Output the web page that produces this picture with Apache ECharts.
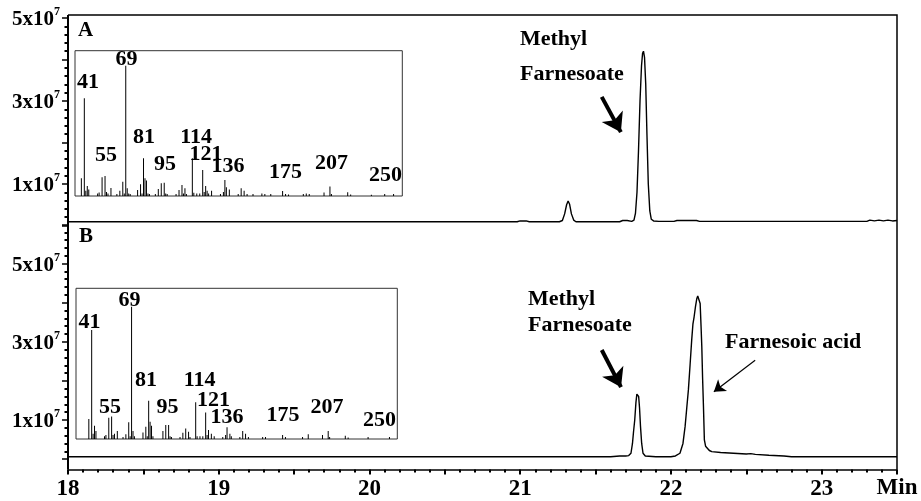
<!DOCTYPE html>
<html><head><meta charset="utf-8">
<script src="https://cdn.jsdelivr.net/npm/echarts@6/dist/echarts.min.js"></script>
<style>html,body{margin:0;padding:0;background:#fff}#c{width:921px;height:501px}</style>
</head><body><div id="c"></div>
<script>
const FONT = "'Liberation Serif','Times New Roman',serif";

// ---- Panel A chromatogram: retention time (min) / abundance (x10^7)
const timeA = [18.00,19.00,20.00,20.98,21.00,21.04,21.06,21.26,21.28,21.295,21.308,21.318,21.328,21.34,21.355,21.37,
  21.66,21.68,21.71,21.74,21.755,21.765,21.775,21.785,21.795,21.805,21.812,21.818,21.825,21.833,21.841,21.85,21.86,21.87,21.885,21.92,
  22.02,22.04,22.17,22.19,23.30,23.32,23.35,23.38,23.41,23.44,23.47,23.50];
const abundA = [0.09,0.09,0.09,0.09,0.11,0.11,0.09,0.09,0.12,0.28,0.50,0.59,0.51,0.28,0.13,0.09,
  0.09,0.12,0.12,0.10,0.13,0.30,0.80,1.80,3.00,3.85,4.15,4.20,4.05,3.40,2.20,1.00,0.35,0.15,0.11,0.10,
  0.10,0.12,0.12,0.10,0.10,0.13,0.11,0.13,0.11,0.13,0.11,0.12];

// ---- Panel B chromatogram
const timeB = [18.00,19.00,20.00,21.00,21.60,21.66,21.70,21.72,21.735,21.745,21.752,21.760,21.768,21.774,21.780,21.786,21.792,21.798,21.806,21.815,21.83,21.90,
  22.00,22.03,22.06,22.08,22.094,22.105,22.116,22.127,22.138,22.146,22.154,22.163,22.172,22.178,22.186,22.194,22.200,22.205,22.210,22.216,22.222,22.230,22.238,22.255,22.271,
  22.33,22.415,22.50,22.53,22.56,22.65,22.75,22.80,23.50];
const abundB = [0.06,0.06,0.06,0.06,0.06,0.08,0.08,0.09,0.15,0.40,0.70,1.00,1.45,1.66,1.68,1.60,1.30,0.85,0.40,0.15,0.08,0.06,
  0.06,0.08,0.15,0.40,0.83,1.30,1.77,2.40,3.05,3.45,3.64,3.90,4.11,4.17,4.12,3.98,3.40,2.87,2.10,1.34,0.49,0.33,0.28,0.22,0.19,
  0.17,0.15,0.13,0.14,0.12,0.10,0.08,0.06,0.06];

// ---- Inset mass spectra (m/z, relative intensity)
const mzA = [39,41,42,43,44,50,51,53,55,56,57,59,63,65,67,68,69,70,71,72,77,79,80,81,82,83,84,85,89,91,93,95,96,97,103,105,107,108,109,110,
  114,115,117,119,121,122,123,124,125,127,133,135,136,137,139,145,147,149,151,155,161,163,167,175,177,179,189,191,193,203,207,208,219,221,235,244,250];
const intA = [13.6,75,4,7.7,5,2,2.6,14.3,15.4,3,2,6.1,1.5,4,11,2,100,5.9,2,1.5,4.6,9,2,29,13.6,11.8,2,1.5,1.5,5.4,9.7,10.2,2,1.5,1.5,4.6,8.4,2,5.9,1.5,
  29,2.5,2,2,20,3,7.7,4,2,4,1.5,3,12.3,6.7,5,1.5,5.9,4,1.5,1.5,2,1.5,1.5,3.8,1.5,1.2,1.5,2,1.5,2.6,7.2,1.5,2.8,1.2,1,1.5,1.5];
const mzB = [39,41,42,43,44,50,51,53,55,56,57,59,63,65,67,68,69,70,71,77,79,80,81,82,83,84,91,93,95,96,97,103,105,107,109,110,
  114,115,117,119,121,122,123,125,127,133,135,136,138,139,145,147,149,151,161,163,175,177,189,193,203,207,208,219,221,235,250];
const intB = [15.1,82.4,4,10,6,2,3,16,17,3,4,6,1.5,3.5,12.6,2,100,6,2,5,9.3,2,29,13,10,2,6,10.6,10.6,2,1.5,1.5,4.8,8,5.5,1.5,
  27.7,2,2,2,20,3,6.8,4,2,1.5,3,8.8,4,2,1.5,6,4,1.5,1.5,1.5,3,1.5,1.5,3.5,3,6,1.5,2.5,1.2,1.5,1.5];

// ion labels and their anchor points (m/z, intensity units) in each inset
const ionLabels = ['41','69','55','81','95','114','121','136','175','207','250'];
const ionAnchorMzA = [43.5,69.5,55.6,81.3,95.5,116.5,123.2,138.1,176.9,208,244.5];
const ionAnchorValA = [87.5,105,31,45.3,24.6,45.3,31.8,22.6,18.4,24.9,15.7];
const ionAnchorMzB = [39.5,67.5,53.9,79.1,94.2,116.7,126.5,136,175.3,206.1,243];
const ionAnchorValB = [88.4,105,23.8,44.2,23.8,44.2,29.1,16.6,18.1,24.2,14];

const xTickLabels = [18,19,20,21,22,23];
const yTickLabels = [1,3,5];

// layout constants
const L = 68, R = 897, T = 15, AX = 469.5;

const chart = echarts.init(document.getElementById('c'), null, {renderer:'canvas'});

function yAxisCfg(grid, max){
  return {
    gridIndex: grid, type:'value', min:0, max:max, interval:1,
    axisLine:{show:false},
    axisTick:{show:true, length:6, lineStyle:{color:'#000', width:1.5}},
    minorTick:{show:true, splitNumber:5, length:3.5, lineStyle:{color:'#000', width:2}},
    splitLine:{show:false}, minorSplitLine:{show:false},
    axisLabel:{
      margin:8,
      formatter: v => yTickLabels.includes(v) ? '{b|' + v + 'x10}{s|7}' : '',
      rich:{
        b:{fontFamily:FONT, fontWeight:'bold', fontSize:21, color:'#000', lineHeight:24, verticalAlign:'bottom'},
        s:{fontFamily:FONT, fontWeight:'bold', fontSize:12, color:'#000', lineHeight:14, verticalAlign:'top'}
      }
    }
  };
}

const labelStyle = {show:true, position:'inside', formatter:'{b}', fontFamily:FONT, fontWeight:'bold', fontSize:22, color:'#000', opacity:1};

const option = {
  animation:false,
  backgroundColor:'#fff',
  grid:[
    {left:L, right:921-R, top:18, bottom:501-225.5},
    {left:L, right:921-R, top:224.5, bottom:501-459.1},
    {left:75, top:50.7, width:327.3, height:145.3, show:true, borderColor:'#333', borderWidth:1, backgroundColor:'#fff', z:3},
    {left:76, top:288.3, width:321.3, height:150.7, show:true, borderColor:'#333', borderWidth:1, backgroundColor:'#fff', z:3}
  ],
  xAxis:[
    {gridIndex:0, type:'value', min:18, max:23.5, show:false},
    {gridIndex:1, type:'value', min:18, max:23.5, interval:0.5, offset:10.4, position:'bottom',
      axisLine:{onZero:false, lineStyle:{color:'#000', width:1.5}},
      axisTick:{length:5, lineStyle:{color:'#000', width:2}},
      minorTick:{show:true, splitNumber:5, length:3, lineStyle:{color:'#000', width:2}},
      splitLine:{show:false}, minorSplitLine:{show:false},
      axisLabel:{margin:8, fontFamily:FONT, fontWeight:'bold', fontSize:23, color:'#000',
        formatter: v => xTickLabels.includes(v) ? String(v) : ''}
    },
    {gridIndex:2, type:'value', min:34.7, max:255.9, show:false},
    {gridIndex:3, type:'value', min:30, max:255.5, show:false}
  ],
  yAxis:[
    yAxisCfg(0, 5),
    yAxisCfg(1, 6),
    {gridIndex:2, type:'value', min:0, max:111.5, show:false},
    {gridIndex:3, type:'value', min:0, max:113.9, show:false}
  ],
  series:[
    {type:'line', xAxisIndex:0, yAxisIndex:0, symbol:'none', smooth:false,
      lineStyle:{color:'#000', width:1.4}, z:2,
      data: timeA.map((t,i)=>[t, abundA[i]]),
      markLine:{silent:true, animation:false, symbol:['none','arrow'],
        label:{show:false}, lineStyle:{color:'#000', width:4, type:'solid'},
        data:[[{coord:[21.541,3.10], lineStyle:{width:4, color:'#000'}, symbolSize:1},
               {coord:[21.668,2.25], lineStyle:{width:4, color:'#000'}, symbolSize:18}]]}
    },
    {type:'line', xAxisIndex:1, yAxisIndex:1, symbol:'none', smooth:false,
      lineStyle:{color:'#000', width:1.4}, z:2,
      data: timeB.map((t,i)=>[t, abundB[i]]),
      markLine:{silent:true, animation:false, symbol:['none','arrow'],
        label:{show:false}, lineStyle:{color:'#000', type:'solid'},
        data:[
          [{coord:[21.541,2.79], lineStyle:{width:4, color:'#000'}, symbolSize:1},
           {coord:[21.669,1.84], lineStyle:{width:4, color:'#000'}, symbolSize:18}],
          [{coord:[22.559,2.53], lineStyle:{width:1.2, color:'#000'}, symbolSize:1},
           {coord:[22.285,1.72], lineStyle:{width:1.2, color:'#000'}, symbolSize:11}]
        ]}
    },
    {type:'bar', xAxisIndex:2, yAxisIndex:2, barWidth:1, itemStyle:{color:'#000'}, z:4,
      data: mzA.map((m,i)=>[m, intA[i]])},
    {type:'bar', xAxisIndex:3, yAxisIndex:3, barWidth:1, itemStyle:{color:'#000'}, z:4,
      data: mzB.map((m,i)=>[m, intB[i]])},
    {type:'scatter', xAxisIndex:2, yAxisIndex:2, symbolSize:1, itemStyle:{color:'rgba(0,0,0,0)', opacity:1}, z:5,
      label:labelStyle,
      data: ionLabels.map((n,i)=>({name:n, value:[ionAnchorMzA[i], ionAnchorValA[i]]}))},
    {type:'scatter', xAxisIndex:3, yAxisIndex:3, symbolSize:1, itemStyle:{color:'rgba(0,0,0,0)', opacity:1}, z:5,
      label:labelStyle,
      data: ionLabels.map((n,i)=>({name:n, value:[ionAnchorMzB[i], ionAnchorValB[i]]}))}
  ],
  graphic:[
    {type:'polyline', shape:{points:[[L,T],[R,T],[R,AX]]}, style:{stroke:'#000', lineWidth:1.5, fill:null}, z:10},
    {type:'line', shape:{x1:L, y1:T, x2:L, y2:AX}, style:{stroke:'#000', lineWidth:2}, z:10},
    {type:'text', x:78, y:31, style:{text:'A', fontFamily:FONT, fontWeight:'bold', fontSize:21, fill:'#000', align:'left', verticalAlign:'middle'}, z:10},
    {type:'text', x:79, y:237, style:{text:'B', fontFamily:FONT, fontWeight:'bold', fontSize:21, fill:'#000', align:'left', verticalAlign:'middle'}, z:10},
    {type:'text', x:520, y:39.5, style:{text:'Methyl', fontFamily:FONT, fontWeight:'bold', fontSize:22, fill:'#000', align:'left', verticalAlign:'middle'}, z:10},
    {type:'text', x:520, y:74.5, style:{text:'Farnesoate', fontFamily:FONT, fontWeight:'bold', fontSize:22, fill:'#000', align:'left', verticalAlign:'middle'}, z:10},
    {type:'text', x:528, y:299.5, style:{text:'Methyl', fontFamily:FONT, fontWeight:'bold', fontSize:22, fill:'#000', align:'left', verticalAlign:'middle'}, z:10},
    {type:'text', x:528, y:325.5, style:{text:'Farnesoate', fontFamily:FONT, fontWeight:'bold', fontSize:22, fill:'#000', align:'left', verticalAlign:'middle'}, z:10},
    {type:'text', x:725, y:342.5, style:{text:'Farnesoic acid', fontFamily:FONT, fontWeight:'bold', fontSize:22, fill:'#000', align:'left', verticalAlign:'middle'}, z:10},
    {type:'text', x:897, y:488.5, style:{text:'Min', fontFamily:FONT, fontWeight:'bold', fontSize:23, fill:'#000', align:'center', verticalAlign:'middle'}, z:10}
  ]
};
chart.setOption(option);
</script>
</body></html>
